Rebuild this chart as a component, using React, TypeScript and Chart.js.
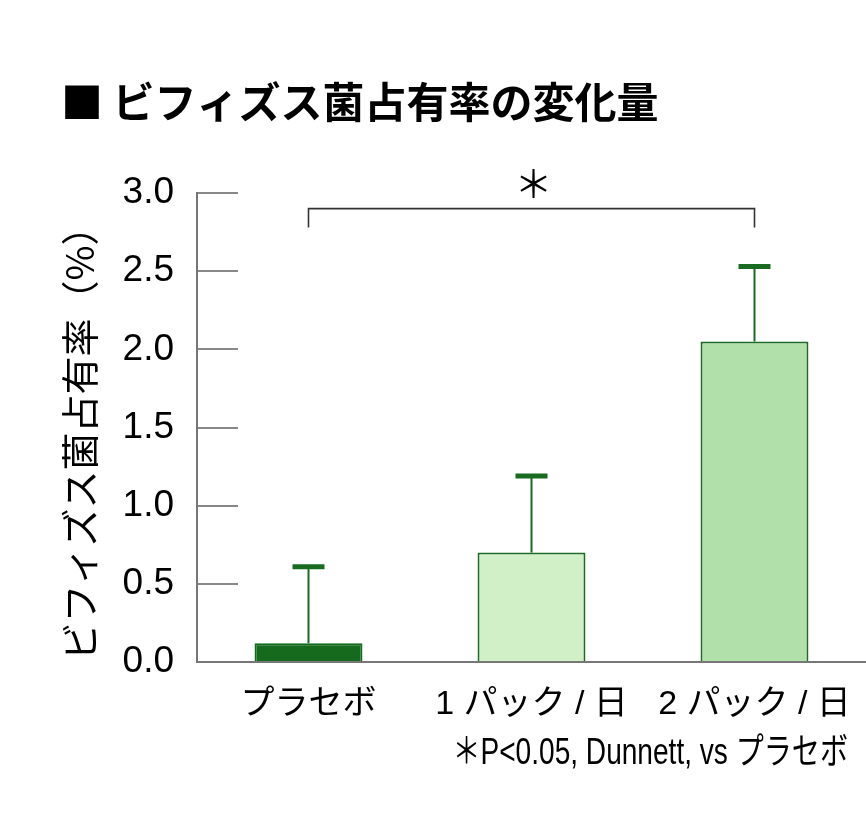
import React, { useEffect, useRef } from "react";
import { Chart, registerables } from "chart.js";

Chart.register(...registerables);

const categories = ["プラセボ", "1 パック / 日", "2 パック / 日"];
const means = [0.12, 0.7, 2.05];
const sds = [0.49, 0.49, 0.48];
const yTicks = [0, 0.5, 1.0, 1.5, 2.0, 2.5, 3.0];
const fillColors = ["#156a1e", "#d2f0c8", "#b2e0ab"];
const borderColors = ["#156a1e", "#1e6b25", "#1e6b25"];

const titleText = "■ ビフィズス菌占有率の変化量";
const yTitleText = "ビフィズス菌占有率（%）";
const footnoteText = "＊P<0.05, Dunnett, vs プラセボ";
const sigMark = "＊";
const sigBracket = { from: 0, to: 2, level: 2.9, tip: 2.78, markLevel: 3.06 };

const JP = '"Liberation Sans", Arial, "Noto Sans CJK JP", sans-serif';

const errorBarPlugin = {
  id: "errorBars",
  afterDatasetsDraw(chart: any) {
    const ctx = chart.ctx;
    const x = chart.scales.x;
    const y = chart.scales.y;
    ctx.save();
    means.forEach((m, i) => {
      const cx = x.getPixelForValue(i);
      const yTop = y.getPixelForValue(m);
      const yErr = y.getPixelForValue(m + sds[i]);
      ctx.strokeStyle = "#1a6b22";
      ctx.lineWidth = 2;
      ctx.beginPath();
      ctx.moveTo(cx, yTop);
      ctx.lineTo(cx, yErr);
      ctx.stroke();
      ctx.lineWidth = 5;
      ctx.beginPath();
      ctx.moveTo(cx - 16, yErr);
      ctx.lineTo(cx + 16, yErr);
      ctx.stroke();
    });
    ctx.restore();
  },
};

const annotationPlugin = {
  id: "annotations",
  afterDraw(chart: any) {
    const ctx = chart.ctx;
    const x = chart.scales.x;
    const y = chart.scales.y;
    ctx.save();
    // significance bracket
    const x1 = x.getPixelForValue(sigBracket.from);
    const x2 = x.getPixelForValue(sigBracket.to);
    const yl = y.getPixelForValue(sigBracket.level);
    const yt = y.getPixelForValue(sigBracket.tip);
    ctx.strokeStyle = "#333333";
    ctx.lineWidth = 1.6;
    ctx.beginPath();
    ctx.moveTo(x1, yt);
    ctx.lineTo(x1, yl);
    ctx.lineTo(x2, yl);
    ctx.lineTo(x2, yt);
    ctx.stroke();
    ctx.fillStyle = "#000";
    ctx.font = '38px "Noto Sans CJK JP", sans-serif';
    ctx.textAlign = "center";
    ctx.textBaseline = "middle";
    ctx.fillText(sigMark, (x1 + x2) / 2 + 2, y.getPixelForValue(sigBracket.markLevel));

    // title
    ctx.font = 'bold 42px "Noto Sans CJK JP", sans-serif';
    ctx.textAlign = "left";
    ctx.textBaseline = "middle";
    ctx.fillText(titleText, 61, 102);

    // y title
    ctx.save();
    ctx.translate(80, 434);
    ctx.rotate(-Math.PI / 2);
    ctx.font = '38px "Noto Sans CJK JP", sans-serif';
    ctx.textAlign = "center";
    ctx.textBaseline = "middle";
    ctx.fillText(yTitleText, 0, 0);
    ctx.restore();

    // footnote (horizontally condensed)
    ctx.save();
    ctx.translate(848, 754);
    ctx.scale(0.78, 1);
    ctx.font = "36px " + JP;
    ctx.textAlign = "right";
    ctx.textBaseline = "middle";
    ctx.fillText(footnoteText, 0, 0);
    ctx.restore();
    ctx.restore();
  },
};

export default function App() {
  const ref = useRef<HTMLCanvasElement>(null);
  useEffect(() => {
    document.body.style.margin = "0";
    const chart = new Chart(ref.current!, {
      type: "bar",
      data: {
        labels: categories,
        datasets: [
          {
            data: means,
            backgroundColor: fillColors,
            borderColor: borderColors,
            borderWidth: 2,
            borderSkipped: "bottom",
            categoryPercentage: 1,
            barPercentage: 0.484,
          },
        ],
      },
      options: {
        responsive: false,
        animation: false,
        layout: { padding: { top: 193, left: 0, right: 0, bottom: 0 } },
        plugins: {
          legend: { display: false },
          tooltip: { enabled: false },
        },
        scales: {
          x: {
            type: "category",
            grid: { display: false, drawTicks: false },
            border: { display: true, color: "#777777", width: 2 },
            ticks: {
              font: { size: 34, family: JP },
              color: "#000",
              padding: 22,
              maxRotation: 0,
              minRotation: 0,
            },
            afterFit(scale: any) {
              scale.height = 162;
              scale.paddingLeft = 0;
              scale.paddingRight = 0;
            },
          },
          y: {
            min: 0,
            max: 3,
            afterBuildTicks(scale: any) {
              scale.ticks = yTicks.map((v) => ({ value: v }));
            },
            grid: {
              display: true,
              drawOnChartArea: false,
              drawTicks: true,
              tickLength: -41,
              color: "#888888",
              lineWidth: 2,
            },
            border: { display: true, color: "#777777", width: 2 },
            ticks: {
              font: { size: 37, family: JP },
              color: "#000",
              padding: 64,
              callback: (v: any) => Number(v).toFixed(1),
            },
            afterFit(scale: any) {
              scale.width = 197;
              scale.paddingTop = 0;
              scale.paddingBottom = 0;
            },
          },
        },
      },
      plugins: [errorBarPlugin, annotationPlugin],
    });
    return () => chart.destroy();
  }, []);
  return (
    <div style={{ position: "relative", width: 866, height: 824 }}>
      <canvas ref={ref} width={866} height={824} style={{ display: "block" }} />
    </div>
  );
}
